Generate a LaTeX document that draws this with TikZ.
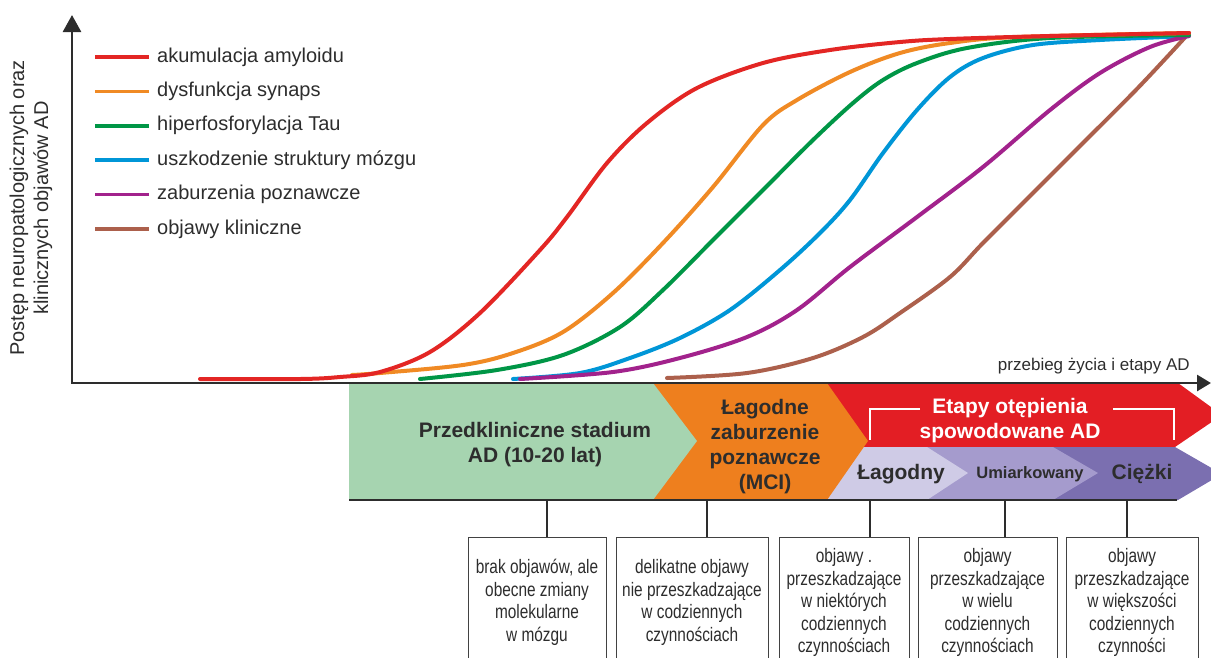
\documentclass[tikz,border=0pt]{standalone}
\usepackage{fontspec}
\setmainfont{Liberation Sans}
\newfontfamily\narrowfont[FakeStretch=0.79]{Liberation Sans}
\usetikzlibrary{arrows.meta}

\definecolor{amyloid}{RGB}{227,38,36}
\definecolor{synapse}{RGB}{240,138,36}
\definecolor{tau}{RGB}{0,150,70}
\definecolor{brain}{RGB}{0,150,215}
\definecolor{cognit}{RGB}{162,34,140}
\definecolor{clinic}{RGB}{172,96,76}
\definecolor{preclin}{RGB}{166,212,176}
\definecolor{mci}{RGB}{238,127,30}
\definecolor{dement}{RGB}{227,30,36}
\definecolor{mild}{RGB}{207,203,230}
\definecolor{moderate}{RGB}{165,155,205}
\definecolor{severe}{RGB}{123,111,176}
\definecolor{ink}{RGB}{45,45,45}

\begin{document}
\begin{tikzpicture}[x=1pt,y=-1pt]
  \useasboundingbox (0,0) rectangle (1211,657);
  \tikzset{AxisStyle/.style = {
    draw          = ink,
    line width    = 2.8pt
    }
  }
  \tikzset{CurveStyle/.style = {
    line width    = 4pt,
    line cap      = round
    }
  }
  \tikzset{LegendStyle/.style = {
    anchor        = west,
    inner sep     = 0pt,
    text          = ink,
    font          = \fontsize{20}{24}\selectfont
    }
  }
  \tikzset{StageStyle/.style = {
    align         = center,
    inner sep     = 0pt,
    text          = ink,
    font          = \bfseries\fontsize{21}{25}\selectfont
    }
  }
  \tikzset{BoxStyle/.style = {
    draw          = ink!90,
    line width    = 1pt,
    anchor        = north,
    align         = center,
    inner sep     = 0pt,
    minimum height= 130pt,
    text          = ink,
    font          = \narrowfont\fontsize{19.5}{22.5}\selectfont
    }
  }
  \tikzset{TickStyle/.style = {
    draw          = ink,
    line width    = 2.8pt
    }
  }

  % axes
  \node[rotate=90, align=center, inner sep=0pt, text=ink,
        font=\fontsize{20}{24}\selectfont] (ylab) at (31,208)
        {Postęp neuropatologicznych oraz\\klinicznych objawów AD};
  \node[anchor=east, inner sep=0pt, text=ink,
        font=\fontsize{17}{20}\selectfont] (xlab) at (1190,366)
        {przebieg życia i etapy AD};

  % legend
  \foreach \col/\txt [count=\i] in {amyloid/akumulacja amyloidu,
      synapse/dysfunkcja synaps, tau/hiperfosforylacja Tau,
      brain/uszkodzenie struktury mózgu, cognit/zaburzenia poznawcze,
      clinic/objawy kliniczne} {
    \node[LegendStyle] (leg\i) at (157,{57+34.4*(\i-1)}) {\txt};
    \draw[\col, line width=3.5pt] ([xshift=-8pt]leg\i.west) -- ++(-54,0);
  }

  % stage bands
  \fill[dement] (827,383) -- (1178,383) -- (1222,415) -- (1175,447) -- (827,447) -- cycle;
  \fill[severe] (827,447) -- (1175,447) -- (1222,474) -- (1178,500) -- (827,500) -- cycle;
  \fill[moderate] (827,447) -- (1053,447) -- (1098,473) -- (1053,500) -- (827,500) -- cycle;
  \fill[mild] (827,447) -- (927,447) -- (968,473) -- (927,500) -- (827,500) -- cycle;
  \fill[mci] (653,383) -- (827,383) -- (868,441) -- (827,500) -- (653,500) -- cycle;
  \fill[preclin] (349,383) -- (653,383) -- (697,441) -- (653,500) -- (349,500) -- cycle;

  \node[StageStyle] (pre) at (535,445) {Przedkliniczne stadium\\AD (10-20 lat)};
  \node[StageStyle] (mcistage) at (765,447) {Łagodne\\zaburzenie\\poznawcze\\(MCI)};
  \node[StageStyle, text=white] (dem) at (1010,421) {Etapy otępienia\\spowodowane AD};
  \node[StageStyle] (mildst) at (901,474) {Łagodny};
  \node[StageStyle, font=\bfseries\fontsize{16.5}{20}\selectfont] (modst) at (1030,474) {Umiarkowany};
  \node[StageStyle] (sevst) at (1142,474) {Ciężki};
  \draw[white, line width=2pt] (920,409) -- (870,409) -- (870,440);
  \draw[white, line width=2pt] (1113,409) -- (1174,409) -- (1174,440);

  % curves
  \draw[CurveStyle, clinic] plot[smooth, tension=0.55] coordinates {(667,378) (747,373)
    (813,358) (863,337) (900,313) (950,277) (983,243) (1033,193) (1083,143) (1133,93)
    (1167,57) (1189,33)};
  \draw[CurveStyle, brain] plot[smooth, tension=0.55] coordinates {(513,379) (580,373)
    (630,358) (680,338) (730,310) (780,270) (820,233) (850,200) (883,153) (917,110)
    (950,77) (983,58) (1033,45) (1100,40) (1189,36)};
  \draw[CurveStyle, cognit] plot[smooth, tension=0.55] coordinates {(520,379) (613,372)
    (680,358) (747,337) (797,310) (850,267) (917,217) (983,167) (1050,110) (1100,73)
    (1150,47) (1189,36)};
  \draw[CurveStyle, tau] plot[smooth, tension=0.55] coordinates {(420,379) (497,370)
    (563,355) (620,327) (663,290) (713,240) (763,190) (813,140) (853,103) (883,80)
    (917,63) (967,48) (1050,38) (1189,35)};
  \draw[CurveStyle, synapse] plot[smooth, tension=0.55] coordinates {(352,375) (380,373)
    (463,365) (513,353) (563,332) (613,293) (663,243) (713,187) (763,125) (797,100)
    (850,72) (900,53) (950,43) (1017,37) (1189,33)};
  \draw[CurveStyle, amyloid] plot[smooth, tension=0.55] coordinates {(200,379) (300,379)
    (340,377) (380,372) (430,352) (480,313) (540,250) (567,217) (607,163) (647,123)
    (697,88) (763,63) (830,50) (900,42) (950,39) (1050,36) (1189,33)};

  % axes on top
  \draw[AxisStyle, {Triangle[length=17pt,width=18pt]}-{Triangle[length=14pt,width=16pt]}]
    (72,15) -- (72,383) -- (1211,383);
  \draw[AxisStyle] (349,500) -- (1177,500);

  % description boxes
  \node[BoxStyle, minimum width=138pt] (b1) at (537,537)
    {brak objawów, ale\\obecne zmiany\\molekularne\\w mózgu};
  \node[BoxStyle, minimum width=152pt] (b2) at (692,537)
    {delikatne objawy\\nie przeszkadzające\\w codziennych\\czynnościach};
  \node[BoxStyle, minimum width=130pt] (b3) at (844,537)
    {objawy .\\przeszkadzające\\w niektórych\\codziennych\\czynnościach};
  \node[BoxStyle, minimum width=139pt] (b4) at (987.5,537)
    {objawy\\przeszkadzające\\w wielu\\codziennych\\czynnościach};
  \node[BoxStyle, minimum width=132pt] (b5) at (1132,537)
    {objawy\\przeszkadzające\\w większości\\codziennych\\czynności};

  \coordinate (t1) at (547,500);
  \coordinate (t2) at (707,500);
  \coordinate (t3) at (870,500);
  \coordinate (t4) at (1005,500);
  \coordinate (t5) at (1127,500);
  \foreach \i in {1,...,5}
    \draw[TickStyle] (t\i) -- (t\i |- b\i.north);

\end{tikzpicture}
\end{document}
